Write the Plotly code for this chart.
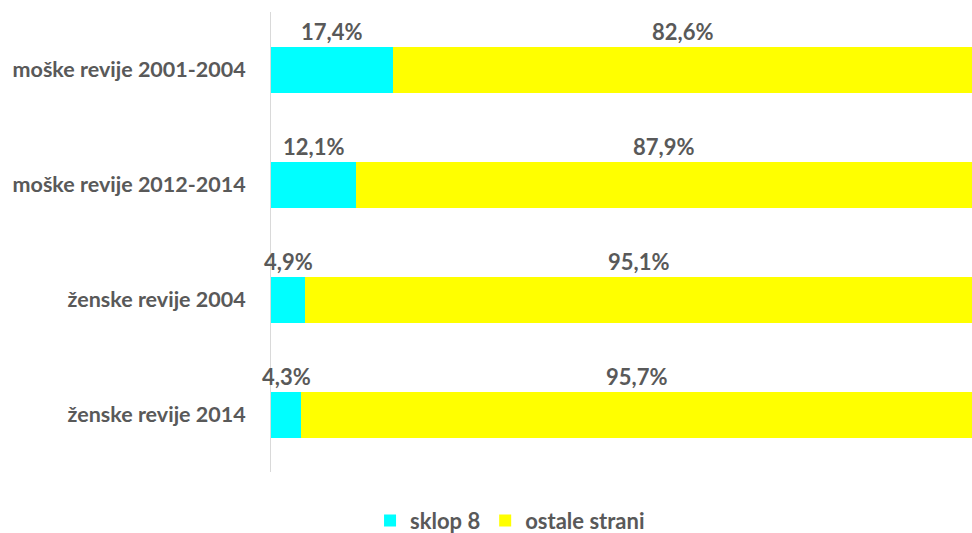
import plotly.graph_objects as go

categories = ["moške revije 2001-2004", "moške revije 2012-2014", "ženske revije 2004", "ženske revije 2014"]
sklop8 = [17.4, 12.1, 4.9, 4.3]
ostale = [82.6, 87.9, 95.1, 95.7]
series_names = ["sklop 8", "ostale strani"]

FONT = "Lato"
GRAY = "#595959"

fig = go.Figure()
fig.add_trace(go.Bar(y=categories, x=sklop8, name=series_names[0], orientation="h",
                     marker=dict(color="#00FFFF", line=dict(width=0))))
fig.add_trace(go.Bar(y=categories, x=ostale, name=series_names[1], orientation="h",
                     marker=dict(color="#FFFF00", line=dict(width=0))))

def fmt(v):
    return f"{v:.1f}".replace(".", ",") + "%"

for c, a, b in zip(categories, sklop8, ostale):
    fig.add_annotation(x=a / 2, y=c, text=fmt(a), showarrow=False, yshift=38,
                       font=dict(family=FONT, size=22, color=GRAY, weight="bold"))
    fig.add_annotation(x=a + b / 2, y=c, text=fmt(b), showarrow=False, yshift=38,
                       font=dict(family=FONT, size=22, color=GRAY, weight="bold"))

fig.update_layout(
    barmode="stack",
    bargap=0.6,
    width=972, height=533,
    margin=dict(l=271, r=0, t=12, b=61, autoexpand=False),
    paper_bgcolor="white", plot_bgcolor="white",
    font=dict(family=FONT, color=GRAY),
    showlegend=True,
    legend=dict(orientation="h", xref="paper", yref="paper", x=0.341, y=-0.106,
                xanchor="center", yanchor="middle",
                font=dict(family=FONT, size=22, color=GRAY, weight="bold"),
                traceorder="normal", itemwidth=30),
    xaxis=dict(range=[0, 100], showgrid=False, zeroline=False, showticklabels=False,
               showline=False, fixedrange=True),
    yaxis=dict(autorange="reversed", showline=True, linecolor="#d9d9d9", linewidth=1,
               ticks="", ticklabelstandoff=20, fixedrange=True,
               tickfont=dict(family=FONT, size=21.5, color=GRAY, weight="bold")),
)

fig.write_html("out.html", config={"displayModeBar": False},
               post_script="document.body.style.margin='0';document.body.style.overflow='hidden';")
